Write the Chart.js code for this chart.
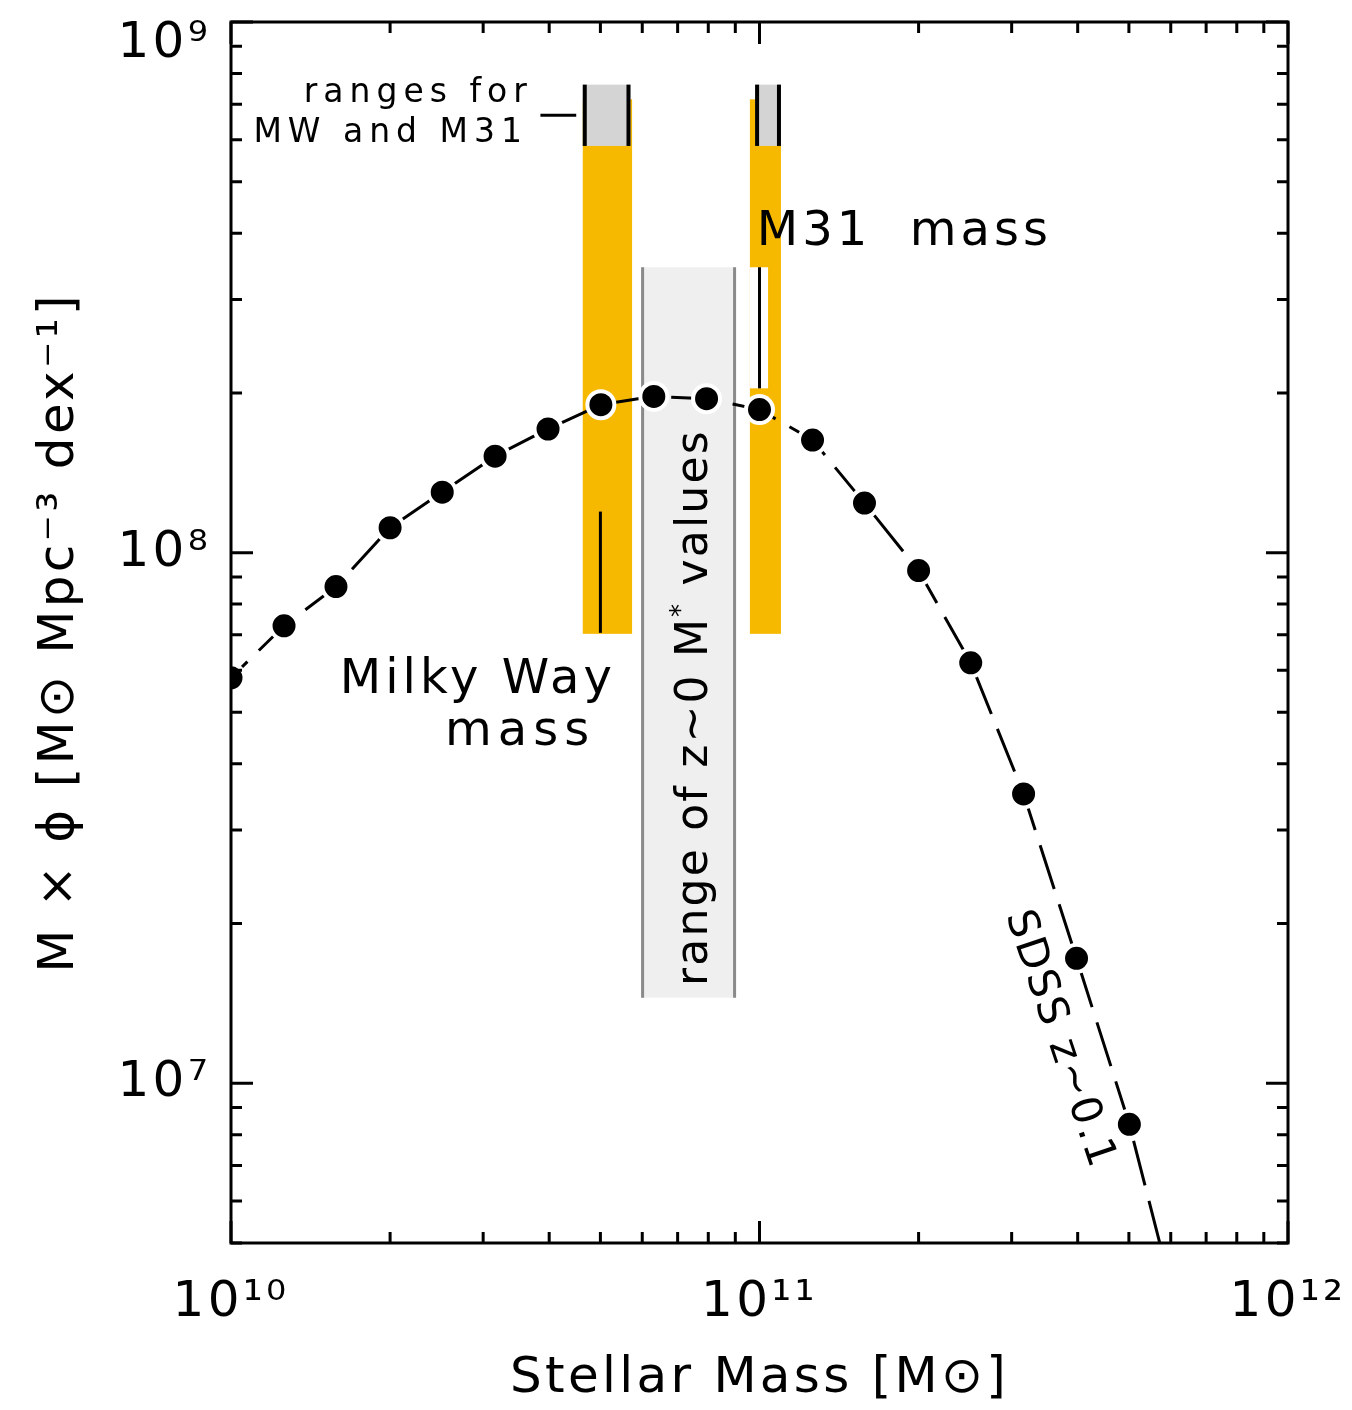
<!DOCTYPE html>
<html>
<head>
<meta charset="utf-8">
<script src="https://cdn.jsdelivr.net/npm/chart.js@4.4.1/dist/chart.umd.min.js"></script>
<style>
html,body{margin:0;padding:0;background:#fff;}
#wrap{width:1352px;height:1410px;position:relative;}
</style>
</head>
<body>
<div id="wrap"><canvas id="c" width="1352" height="1410"></canvas></div>
<script>
// ---------- data ----------
const massGrid = [1.00e10, 1.26e10, 1.58e10, 2.00e10, 2.51e10, 3.16e10, 3.98e10, 5.01e10, 6.31e10,
                  7.94e10, 1.00e11, 1.26e11, 1.58e11, 2.00e11, 2.51e11, 3.16e11, 3.98e11, 5.01e11];
const phiValues = [5.81e7, 7.28e7, 8.63e7, 1.114e8, 1.30e8, 1.52e8, 1.71e8, 1.90e8, 1.97e8,
                   1.95e8, 1.86e8, 1.63e8, 1.24e8, 9.25e7, 6.20e7, 3.51e7, 1.72e7, 8.37e6];
const curveTailMass = [5.72e11];
const curveTailPhi  = [5.0e6];

const xTickValues = [1e10, 1e11, 1e12];
const xTickLabels = ['10¹⁰', '10¹¹', '10¹²'];
const yTickValues = [1e7, 1e8, 1e9];
const yTickLabels = ['10⁷', '10⁸', ['', '10⁹']];

// shaded ranges (data coordinates)
const zRangeMass = [5.97e10, 9.03e10];
const zRangePhi  = [1.45e7, 3.45e8];
const mwBarMass  = [4.63e10, 5.74e10];
const m31BarMass = [9.59e10, 1.098e11];
const barPhi     = [7.03e7, 7.15e8];
const mwBoxMass  = [4.63e10, 5.70e10];
const m31BoxMass = [9.81e10, 1.098e11];
const boxPhi     = [5.84e8, 7.62e8];
const mwMarkMass  = 5.0e10;
const mwMarkPhi   = [7.06e7, 1.195e8];
const m31MarkMass = 1.0e11;
const m31MarkPhi  = [2.04e8, 3.45e8];
const m31GapMass  = [9.59e10, 1.038e11];
const leaderMass  = [3.85e10, 4.50e10];
const leaderPhi   = 6.67e8;

// text annotations (log10 mass, log10 phi)
const FONT = "'DejaVu Sans', 'Noto Sans', sans-serif";
const ORANGE = '#F7B900';
const labels = [
  {parts:[{t:'ranges for'}], lm:10.571, lp:8.849, size:33, align:'right', spacing:6},
  {parts:[{t:'MW and M31'}], lm:10.562, lp:8.774, size:33, align:'right', spacing:6},
  {parts:[{t:'M31  mass'}], lm:10.995, lp:8.579, size:48, align:'left', spacing:4},
  {parts:[{t:'Milky Way'}], lm:10.206, lp:7.736, size:48, align:'left', spacing:4},
  {parts:[{t:'mass'}], lm:10.405, lp:7.638, size:48, align:'left', spacing:6},
  {parts:[{t:'range of z~0 M'},{t:'*',sup:true},{t:' values'}], lm:10.901, lp:7.708, size:44, align:'center', spacing:2.2, rot:-Math.PI/2},
  {parts:[{t:'SDSS z~0.1'}], lm:11.567, lp:7.082, size:42, align:'center', baseline:'middle', spacing:2, rot:71.5*Math.PI/180}
];

function drawLabel(ctx, parts, px, py, o) {
  ctx.save();
  ctx.translate(px, py);
  ctx.rotate(o.rot || 0);
  ctx.fillStyle = '#000';
  ctx.textBaseline = o.baseline || 'alphabetic';
  ctx.textAlign = 'left';
  if ('letterSpacing' in ctx) ctx.letterSpacing = (o.spacing || 0) + 'px';
  const fnt = p => (p.sup ? Math.round(o.size * 0.6) : o.size) + 'px ' + FONT;
  const widths = parts.map(p => { ctx.font = fnt(p); return ctx.measureText(p.t).width; });
  const total = widths.reduce((s, w) => s + w, 0);
  let cx = o.align === 'center' ? -total / 2 : (o.align === 'right' ? -total : 0);
  parts.forEach((p, i) => {
    ctx.font = fnt(p);
    ctx.fillText(p.t, cx, p.sup ? -o.size * 0.42 : 0);
    cx += widths[i];
  });
  ctx.restore();
}

const annotate = {
  id: 'annotate',
  beforeDraw(chart) {
    if ('letterSpacing' in chart.ctx) chart.ctx.letterSpacing = '3.3px';
  },
  beforeDatasetsDraw(chart) {
    const {ctx, chartArea: a, scales: {x, y}} = chart;
    const X = v => x.getPixelForValue(v), Y = v => y.getPixelForValue(v);
    ctx.save();
    ctx.beginPath(); ctx.rect(a.left, a.top, a.right - a.left, a.bottom - a.top); ctx.clip();
    const rect = (xs, ys, fill) => {
      const x0 = X(xs[0]), x1 = X(xs[1]), y0 = Y(ys[1]), y1 = Y(ys[0]);
      ctx.fillStyle = fill; ctx.fillRect(x0, y0, x1 - x0, y1 - y0);
    };
    const vline = (xv, ys, w, col, dx) => {
      ctx.strokeStyle = col; ctx.lineWidth = w; ctx.lineCap = 'butt';
      ctx.beginPath();
      ctx.moveTo(X(xv) + (dx || 0), Y(ys[0]));
      ctx.lineTo(X(xv) + (dx || 0), Y(ys[1]));
      ctx.stroke();
    };
    rect(zRangeMass, zRangePhi, '#efefef');
    vline(zRangeMass[0], zRangePhi, 3, '#8a8a8a', 1.5);
    vline(zRangeMass[1], zRangePhi, 3, '#8a8a8a', -1.5);
    rect(mwBarMass, barPhi, ORANGE);
    rect(m31BarMass, barPhi, ORANGE);
    rect(mwBoxMass, boxPhi, '#d4d4d4');
    rect(m31BoxMass, boxPhi, '#d4d4d4');
    vline(mwBoxMass[0], boxPhi, 4, '#000', 2);
    vline(mwBoxMass[1], boxPhi, 4, '#000', -2);
    vline(m31BoxMass[0], boxPhi, 4, '#000', 2);
    vline(m31BoxMass[1], boxPhi, 4, '#000', -2);
    rect(m31GapMass, m31MarkPhi, '#ffffff');
    vline(m31MarkMass, m31MarkPhi, 3, '#000');
    vline(mwMarkMass, mwMarkPhi, 3, '#000');
    ctx.strokeStyle = '#000'; ctx.lineWidth = 3;
    ctx.beginPath();
    ctx.moveTo(X(leaderMass[0]), Y(leaderPhi));
    ctx.lineTo(X(leaderMass[1]), Y(leaderPhi));
    ctx.stroke();
    ctx.restore();
  },
  afterDatasetsDraw(chart) {
    const {ctx, scales: {x, y}} = chart;
    labels.forEach(l => {
      drawLabel(ctx, l.parts, x.getPixelForValue(Math.pow(10, l.lm)), y.getPixelForValue(Math.pow(10, l.lp)), l);
    });
  },
  afterDraw(chart) {
    const {ctx, chartArea: a, scales: {x, y}} = chart;
    ctx.save();
    ctx.strokeStyle = '#000'; ctx.lineWidth = 3; ctx.lineCap = 'butt';
    ctx.strokeRect(a.left, a.top, a.right - a.left, a.bottom - a.top);
    const MAJ = 22, MIN = 11;
    const xt = [], yt = [];
    for (let e = 10; e <= 12; e++) for (let m = 1; m <= 9; m++) { const v = m * Math.pow(10, e); if (v >= 1e10 && v <= 1e12) xt.push([v, m === 1]); }
    for (let e = 6; e <= 9; e++) for (let m = 1; m <= 9; m++) { const v = m * Math.pow(10, e); if (v >= 5e6 && v <= 1e9) yt.push([v, m === 1]); }
    ctx.beginPath();
    xt.forEach(([v, maj]) => {
      const px = x.getPixelForValue(v), L = maj ? MAJ : MIN;
      ctx.moveTo(px, a.bottom); ctx.lineTo(px, a.bottom - L);
      ctx.moveTo(px, a.top); ctx.lineTo(px, a.top + L);
    });
    yt.forEach(([v, maj]) => {
      const py = y.getPixelForValue(v), L = maj ? MAJ : MIN;
      ctx.moveTo(a.left, py); ctx.lineTo(a.left + L, py);
      ctx.moveTo(a.right, py); ctx.lineTo(a.right - L, py);
    });
    ctx.stroke();
    ctx.restore();
  }
};

const points = massGrid.map((m, i) => ({x: m, y: phiValues[i]}));
const curve = points.concat(curveTailMass.map((m, i) => ({x: m, y: curveTailPhi[i]})));

new Chart(document.getElementById('c'), {
  type: 'line',
  data: {
    datasets: [
      {
        label: 'SDSS z~0.1 points',
        data: points,
        showLine: false,
        pointRadius: 13.5,
        pointBackgroundColor: '#000',
        pointBorderColor: '#fff',
        pointBorderWidth: 4,
        order: 0
      },
      {
        label: 'SDSS z~0.1 curve',
        data: curve,
        borderColor: '#000',
        borderWidth: 3,
        borderDash: [46, 16],
        borderDashOffset: 23,
        pointRadius: 0,
        tension: 0,
        fill: false,
        order: 1
      }
    ]
  },
  options: {
    responsive: false,
    animation: false,
    devicePixelRatio: 1,
    layout: {padding: {top: 22, right: 64, left: 0, bottom: 0}},
    plugins: {legend: {display: false}, tooltip: {enabled: false}},
    scales: {
      x: {
        type: 'logarithmic',
        min: 1e10, max: 1e12,
        afterBuildTicks: s => { s.ticks = xTickValues.map(v => ({value: v})); },
        afterFit: s => { s.height = 167; s.paddingLeft = 0; s.paddingRight = 0; },
        grid: {display: false, drawTicks: false},
        border: {display: false},
        ticks: {
          autoSkip: false, maxRotation: 0, padding: 30, color: '#000',
          font: {family: FONT, size: 50},
          callback: v => xTickLabels[xTickValues.indexOf(v)]
        },
        title: {display: true, text: 'Stellar Mass [M⊙]', color: '#000',
                font: {family: FONT, size: 50}, padding: {top: 0, bottom: 1}}
      },
      y: {
        type: 'logarithmic',
        min: 5e6, max: 1e9,
        afterBuildTicks: s => { s.ticks = yTickValues.map(v => ({value: v})); },
        afterFit: s => { s.width = 231; s.paddingTop = 0; s.paddingBottom = 0; },
        grid: {display: false, drawTicks: false},
        border: {display: false},
        ticks: {
          autoSkip: false, padding: 20, color: '#000',
          font: {family: FONT, size: 50, lineHeight: 0.88},
          callback: v => yTickLabels[yTickValues.indexOf(v)]
        },
        title: {display: true, text: 'M × ϕ [M⊙ Mpc⁻³ dex⁻¹]', color: '#000',
                font: {family: FONT, size: 50}, padding: {top: 30, bottom: 0}}
      }
    }
  },
  plugins: [annotate]
});
</script>
</body>
</html>
